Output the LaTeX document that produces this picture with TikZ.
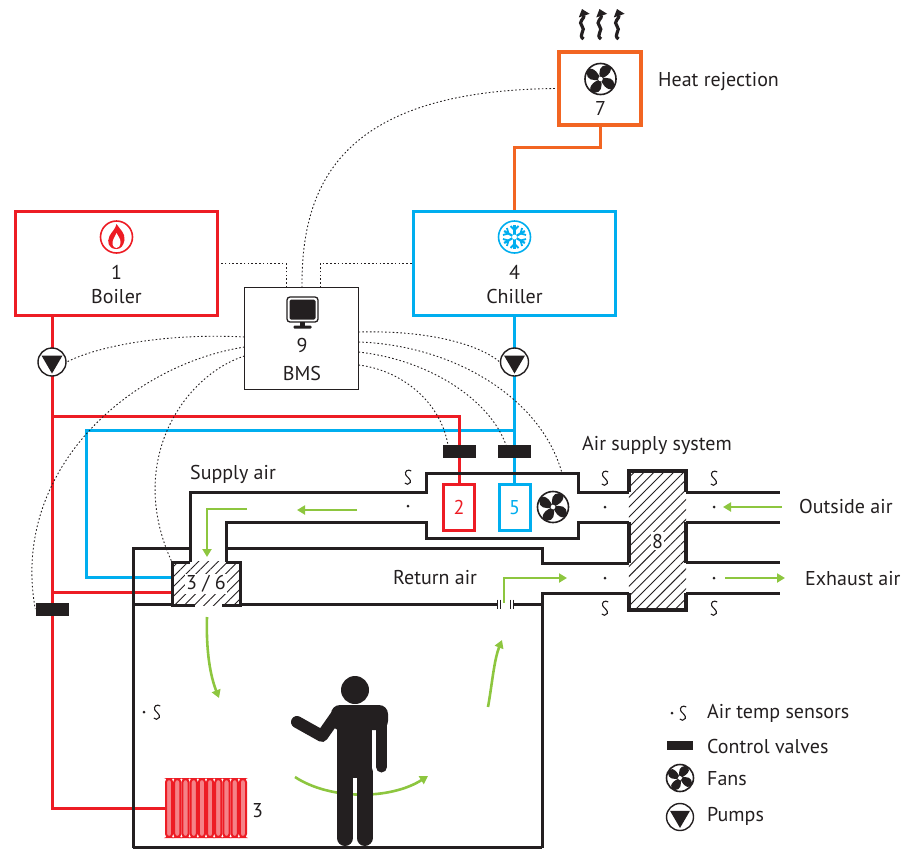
\documentclass[tikz,border=0pt]{standalone}
\usepackage{fontspec}
\setmainfont{PT Sans}
\usetikzlibrary{arrows.meta,patterns.meta,backgrounds,calc}
\definecolor{ink}{HTML}{231F20}
\definecolor{hotred}{HTML}{ED1C24}
\definecolor{coolblue}{HTML}{00AEEF}
\definecolor{rejorange}{HTML}{F26522}
\definecolor{airgreen}{HTML}{8DC63F}

\tikzset{
  txt/.style={font=\fontsize{20}{24}\selectfont, text=ink, inner sep=0pt},
  plantbox/.style={draw, line width=3pt, minimum width=202pt, minimum height=104pt, inner sep=0pt},
  pipe/.style={line width=3pt},
  duct/.style={draw=ink, line width=3pt},
  ctrl/.style={draw=ink, line width=0.9pt, dash pattern=on 1.6pt off 2.2pt},
  airflow/.style={draw=airgreen, line width=2.6pt, -{Triangle[length=8pt,width=9pt]}},
  valve/.style={fill=ink, minimum width=33pt, minimum height=13pt, inner sep=0pt},
  pump/.style={circle, draw=ink, fill=white, line width=1.4pt, minimum size=28pt, inner sep=0pt},
  coil/.style={draw, fill=white, line width=3pt, minimum width=31pt, minimum height=46pt,
    inner sep=0pt, font=\fontsize{20}{24}\selectfont},
  hatch/.style={pattern={Lines[angle=45,distance=7pt,line width=0.9pt]}, pattern color=ink},
  fanicon/.pic={
    \draw[ink, line width=1.6pt, fill=white] (0,0) circle (13.5);
    \foreach \a in {0,90,180,270}
      \fill[ink, rotate=\a] (0,0) .. controls (-2.5,-7) and (0,-12) .. (5,-12)
        .. controls (11,-12) and (11,-4) .. (0,0) -- cycle;
    \fill[white] (0,0) circle (2);
  },
  pumptri/.pic={\fill[ink] (-10.5,-6.5) -- (10.5,-6.5) -- (0,11.5) -- cycle;},
  flameicon/.pic={
    \draw[hotred, line width=1.6pt] (0,0) circle (16);
    \fill[hotred] (0,12) .. controls (-8,12) and (-10,5) .. (-7,-1)
      .. controls (-5,-5) and (-1,-8) .. (0,-13)
      .. controls (3,-8) and (9,-4) .. (8,3)
      .. controls (7,9) and (4,12) .. (0,12) -- cycle;
    \fill[white] (0,11) .. controls (-4,11) and (-5,6) .. (-3,2)
      .. controls (-2,0) and (-1,-2) .. (0,-4)
      .. controls (1,-1) and (4,1) .. (4,5)
      .. controls (4,9) and (2,11) .. (0,11) -- cycle;
  },
  snowicon/.pic={
    \draw[coolblue, line width=1.6pt] (0,0) circle (16);
    \foreach \a in {0,60,...,300}{
      \draw[coolblue, line width=2.2pt, rotate=\a] (0,0) -- (0,-12);
      \draw[coolblue, line width=1.8pt, rotate=\a] (-4,-11) -- (0,-7) -- (4,-11);
    }
    \fill[white] (0,0) circle (2.5);
  },
  monitoricon/.pic={
    \draw[ink, line width=1.3pt, rounded corners=3pt] (-15.5,-15) rectangle (15.5,10);
    \fill[ink, rounded corners=1.5pt] (-13,-12.5) rectangle (13,7.5);
    \fill[ink] (-2.5,10) rectangle (2.5,14);
    \fill[ink, rounded corners=1pt] (-9,13.5) rectangle (9,16.5);
  },
  sensorS/.pic={
    \draw[ink, line width=1.1pt] (3.2,-6) .. controls (0,-8.5) and (-3.8,-5.5) .. (-2.2,-2)
      .. controls (-0.5,1.2) and (3.3,1.8) .. (2.2,5.5) .. controls (1.2,8) and (-2.2,7.5) .. (-3.2,6);
  },
  heatwave/.pic={
    \draw[ink, line width=3.2pt, -{Triangle[length=7pt,width=11pt]}]
      (1.5,39) .. controls (-4.5,35) and (4.5,30) .. (0,26)
      .. controls (-4.5,22) and (3,18) .. (0,9);
  },
}

\begin{document}
\begin{tikzpicture}[x=1pt,y=-1pt]
\useasboundingbox (0,0) rectangle (902,849);

% ---------- plant ----------
\node[plantbox, draw=hotred] (boiler) at (116.5,263.5) {};
\node[plantbox, draw=coolblue] (chiller) at (514.5,263.5) {};
\node[draw=rejorange, line width=4pt, minimum width=82pt, minimum height=73pt, inner sep=0pt] (heatrej) at (600,88.5) {};
\node[draw=ink, line width=1pt, fill=white, minimum width=114pt, minimum height=102pt, inner sep=0pt] (bms) at (301.5,338.5) {};

\pic at (116.5,237) {flameicon};
\pic at (514.5,237) {snowicon};
\pic[scale=1.15] at (600.5,79) {fanicon};
\pic at (302.5,312) {monitoricon};
\pic at (582,0) {heatwave};
\pic at (599.5,0) {heatwave};
\pic at (617,0) {heatwave};

\node[txt, anchor=base] (boilernum) at (116.5,279) {1};
\node[txt, anchor=base] (boilername) at (116.5,303) {Boiler};
\node[txt, anchor=base] (chillernum) at (514.5,279) {4};
\node[txt, anchor=base] (chillername) at (514.5,303) {Chiller};
\node[txt, anchor=base] (rejnum) at (600.5,115) {7};
\node[txt, anchor=base west] (rejname) at (658,86) {Heat rejection};
\node[txt, anchor=base] (bmsnum) at (302,352) {9};
\node[txt, anchor=base] (bmsname) at (302,380) {BMS};

% ---------- pumps, valves, coils ----------
\node[pump] (p1) at (52,362) {};
\pic at (p1) {pumptri};
\node[pump] (p2) at (514.5,362) {};
\pic at (p2) {pumptri};
\node[valve] (v1) at (52,609) {};
\node[valve] (v2) at (459,451.5) {};
\node[valve] (v3) at (514.5,451.5) {};
\node[coil, draw=hotred, text=hotred] (coil2) at (459,507.5) {2};
\node[coil, draw=coolblue, text=coolblue] (coil5) at (514.5,507.5) {5};
\pic[scale=1.15] at (553,507) {fanicon};

% terminal unit 3/6
\node[minimum width=68pt, minimum height=43pt, inner sep=0pt] (hx36) at (206,583.5) {};
\path[hatch] (hx36.north west) rectangle (hx36.south east);
\node[txt, fill=white, inner sep=1.5pt] (hx36txt) at (206,584) {3 / 6};

% heat recovery 8
\node[minimum width=57pt, minimum height=139pt, inner sep=0pt] (hrv) at (657.5,540.5) {};
\path[hatch] (hrv.north west) rectangle (hrv.south east);
\node[txt, fill=white, inner sep=1.5pt] (hrvtxt) at (657.5,541) {8};

% radiator 3
\node[minimum width=82pt, minimum height=60pt, inner sep=0pt] (rad) at (206,808) {};
\foreach \i in {0,...,9}
  \draw[hotred, line width=2pt, fill=hotred!55, rounded corners=3.2pt]
    (166+8.2*\i,779) rectangle (172.2+8.2*\i,837);
\node[txt, anchor=base west] (radtxt) at (252,817) {3};

% ---------- pipes and control wiring (behind) ----------
\begin{scope}[on background layer]
  \draw[pipe, rejorange] (heatrej.south) -- ++(0,20) -| (chiller.north);
  \coordinate (btee) at (514.5,430);
  \coordinate (bcorner) at (86,430);
  \coordinate (bin) at (172,577);
  \coordinate (rtee) at (52,416);
  \coordinate (rin) at (172,592);
  \draw[pipe, coolblue] (chiller.south) -- (coil5.north);
  \draw[pipe, coolblue] (btee) -- (bcorner) |- (bin);
  \draw[pipe, hotred] (p1 |- boiler.south) |- (rad.west);
  \draw[pipe, hotred] (rtee) -| (coil2.north);
  \draw[pipe, hotred] (rin -| p1) -- (rin);

  \coordinate (bt1) at (286,287.5);
  \coordinate (bt2) at (302,287.5);
  \coordinate (bt3) at (320,287.5);
  \coordinate (bl1) at (244.5,337);
  \coordinate (bl2) at (244.5,347);
  \coordinate (bl3) at (244.5,356);
  \coordinate (br1) at (358.5,332);
  \coordinate (br2) at (358.5,342);
  \coordinate (br3) at (358.5,352);
  \coordinate (br4) at (358.5,365);
  \coordinate (v2in) at (448,445);
  \coordinate (v3in) at (506,445);
  \coordinate (ahuin) at (562,473);
  \draw[ctrl] (bt1) |- (boiler.east);
  \draw[ctrl] (bt3) |- (chiller.west);
  \draw[ctrl] (bt2) .. controls (301,180) and (345,90) .. (heatrej.west);
  \draw[ctrl] (bl1) .. controls (170,333) and (100,345) .. (p1.east);
  \draw[ctrl] (bl2) .. controls (130,365) and (10,470) .. (v1.west);
  \draw[ctrl] (bl3) .. controls (185,375) and (125,460) .. (hx36.north west);
  \draw[ctrl] (br1) .. controls (430,330) and (480,345) .. (p2.west);
  \draw[ctrl] (br2) .. controls (450,345) and (540,395) .. (ahuin);
  \draw[ctrl] (br3) .. controls (430,360) and (490,400) .. (v3in);
  \draw[ctrl] (br4) .. controls (400,370) and (440,400) .. (v2in);
\end{scope}

% ---------- ducts and room ----------
\draw[duct] (190,562) -- (190,492) -- (426,492) -- (426,473) -- (578,473) -- (578,492) -- (629,492);
\draw[duct] (226,562) -- (226,522) -- (426,522) -- (426,538) -- (578,538) -- (578,522) -- (629,522);
\draw[duct] (133,848) -- (133,548) -- (190,548);
\draw[duct] (226,548) -- (542,548) -- (542,563) -- (629,563);
\draw[duct] (542,848) -- (542,593) -- (629,593);
\draw[duct] (133,847) -- (542,847);
\draw[duct] (133,604) -- (172,604);
\draw[duct] (240,604) -- (497,604);
\draw[duct] (513,604) -- (542,604);
\draw[ink, line width=1pt] (497,599.5) -- (497,608.5) (500.5,599.5) -- (500.5,608.5)
  (510,599.5) -- (510,608.5) (513,599.5) -- (513,608.5);
% unit 3/6 casing
\draw[duct] (190,562) -- (172,562) -- (172,605) -- (195,605);
\draw[duct] (222,605) -- (240,605) -- (240,562) -- (226,562);
% heat recovery casing
\draw[duct, line width=3.5pt] (629,492) -- (629,471) -- (686,471) -- (686,492);
\draw[duct, line width=3.5pt] (629,522) -- (629,563) (686,522) -- (686,563);
\draw[duct, line width=3.5pt] (629,593) -- (629,610) -- (686,610) -- (686,593);
% outside ducts
\draw[duct] (686,492) -- (780,492) (686,522) -- (780,522);
\draw[duct] (686,562) -- (780,562) (686,593) -- (780,593);

% ---------- sensors ----------
\foreach \sx/\sy/\dy in {408/477/506, 605/478/507, 714/478/507}{
  \pic at (\sx,\sy) {sensorS};
  \fill[ink] (\sx,\dy) circle (1.5);
}
\foreach \sx in {605,714}{
  \pic at (\sx,608) {sensorS};
  \fill[ink] (\sx,578) circle (1.5);
}
\fill[ink] (144,712) circle (1.5);
\pic at (157,712) {sensorS};

% ---------- air flows ----------
\draw[airflow] (357,510) -- (297,510);
\draw[airflow] (247,509) -- (207,509) -- (207,557);
\draw[airflow] (504,603) -- (504,578) -- (567,578);
\draw[airflow] (782,507) -- (723,507);
\draw[airflow] (725,578) -- (785,578);
\draw[airflow] (207,617) .. controls (206,650) and (210,675) .. (219,698);
\draw[airflow] (488,707) .. controls (492,685) and (494,660) .. (502,640);
\draw[airflow] (295,777) .. controls (330,800) and (390,800) .. (428,776);

% ---------- occupant ----------
\fill[ink] (355,690) circle (14);
\fill[ink, rounded corners=9pt] (331,705) -- (388,705) -- (388,730) -- (331,730) -- cycle;
\fill[ink] (337,715) rectangle (372,778);
\draw[ink, line width=11pt, line cap=round] (381.5,712) -- (381.5,767);
\draw[ink, line width=16pt, line cap=round] (345,772) -- (345,838) (364.5,772) -- (364.5,838);
\draw[ink, line width=12pt, line cap=round, line join=round] (336,716) -- (322,736) -- (297,722);

% ---------- labels ----------
\node[txt, anchor=base west] (lblsys) at (582,450) {Air supply system};
\node[txt, anchor=base west] (lblsup) at (190,479) {Supply air};
\node[txt, anchor=base west] (lblret) at (393,584) {Return air};
\node[txt, anchor=base west] (lblout) at (799,513) {Outside air};
\node[txt, anchor=base west] (lblexh) at (805,585) {Exhaust air};

% ---------- legend ----------
\fill[ink] (672,713) circle (1.5);
\pic at (683,713) {sensorS};
\node[txt, anchor=base west] (legsens) at (707,718) {Air temp sensors};
\node[valve, minimum width=26pt, minimum height=9pt] (legvalve) at (680,745) {};
\node[txt, anchor=base west] (legvalvetxt) at (707,753) {Control valves};
\pic at (680,778) {fanicon};
\node[txt, anchor=base west] (legfan) at (707,785) {Fans};
\node[pump, minimum size=27pt] (legpump) at (680,817) {};
\pic[scale=0.95] at (legpump) {pumptri};
\node[txt, anchor=base west] (legpumptxt) at (707,821) {Pumps};
\end{tikzpicture}
\end{document}
